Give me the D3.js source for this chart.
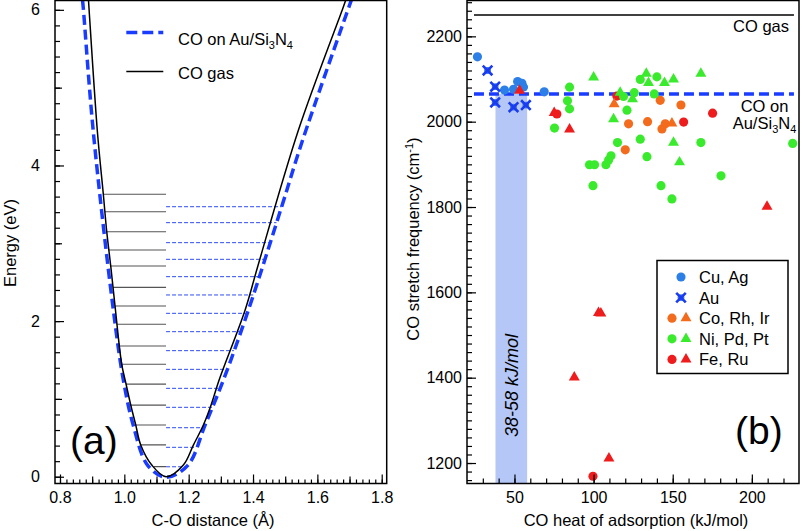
<!DOCTYPE html>
<html>
<head>
<meta charset="utf-8">
<script src="https://cdn.jsdelivr.net/npm/d3@7/dist/d3.min.js"></script>
<style>
    body { margin: 0; background: #fff; }
    svg text { font-family: "Liberation Sans", Arial, sans-serif; fill: #000; }
</style>
</head>
<body>
<div id="chart"></div>
<script>
// ---------- panel (a): potential curves, [C-O distance (A), energy (eV)] ----------
var gasCurve = [
    [0.8886, 6.127], [0.8902, 6.021], [0.9166, 4.418], [0.9347, 3.630], [0.9453, 3.149],
    [0.9577, 2.708], [0.9711, 2.194], [0.9919, 1.445], [1.0053, 1.192], [1.0199, 0.922],
    [1.0355, 0.665], [1.0510, 0.407], [1.0852, 0.150], [1.1297, 0.000], [1.1835, 0.150],
    [1.2146, 0.407], [1.2457, 0.665], [1.2697, 0.922], [1.2946, 1.243], [1.3755, 2.143],
    [1.4144, 2.699], [1.5412, 4.456], [1.6793, 6.021], [1.6883, 6.127]
];
var auCurve = [
    [0.8700, 6.127], [0.8725, 6.021], [0.9036, 4.431], [0.9658, 2.143], [0.9969, 1.243],
    [1.0275, 0.665], [1.0720, 0.150], [1.1297, -0.008], [1.1980, 0.150], [1.2510, 0.665],
    [1.3079, 1.243], [1.3857, 2.143], [1.4890, 3.470], [1.5512, 4.289], [1.6967, 6.021],
    [1.7058, 6.127]
];
// vibrational levels (eV)
var gasLevels = [0.13, 0.41, 0.665, 0.92, 1.19, 1.445, 1.68, 1.96, 2.194, 2.434, 2.708, 2.914, 3.149, 3.406, 3.63];
var auLevels = [0.128, 0.378, 0.63, 0.892, 1.136, 1.38, 1.62, 1.864, 2.10, 2.336, 2.571, 2.794, 3.008, 3.265, 3.47];
var rEq = 1.1297;

var xTicksA = [0.8, 1.0, 1.2, 1.4, 1.6, 1.8];
var yTicksA = [0, 2, 4, 6];

// ---------- panel (b): [heat of adsorption (kJ/mol), CO stretch (cm-1)] ----------
var cuAg = [[26.6, 2152], [43.7, 2074], [49.4, 2076], [52.0, 2094], [54.7, 2090], [55.7, 2081], [68.8, 2070]];
var auPts = [[33.0, 2120], [37.8, 2082], [37.8, 2045], [49.4, 2034], [57.2, 2039]];
var coRhIrCircles = [[122.1, 1995], [120.0, 1934], [134.1, 2000], [142.1, 2050], [143.2, 1983], [145.3, 1995], [155.2, 2039]];
var coRhIrTriangles = [[113.0, 2041], [149.5, 1996]];
var niPdPtCircles = [
    [84.8, 2081], [83.5, 2049], [84.8, 2030], [75.3, 1985], [97.4, 1899], [100.6, 1899],
    [99.6, 1850], [107.8, 1899], [109.5, 1910], [111.0, 1920], [115.1, 1951], [118.9, 2059],
    [121.1, 2027], [125.7, 2068], [129.5, 2099], [129.5, 1959], [133.7, 1918], [140.0, 2105],
    [138.3, 2065], [142.6, 1850], [149.5, 1819], [167.8, 1951], [180.5, 1873], [225.8, 1949]
];
var niPdPtTriangles = [
    [100.0, 2104], [116.8, 2068], [112.6, 2006], [124.6, 2053], [133.3, 2113], [134.7, 2091],
    [144.8, 2091], [150.5, 2099], [150.5, 1951], [154.3, 1905], [167.8, 2113]
];
var feRuCircles = [[76.8, 2018], [114.7, 2060], [156.9, 1999], [175.2, 2020], [99.6, 1169]];
var feRuTriangles = [[53.2, 2073], [75.1, 2021], [84.8, 1982], [209.6, 1801], [103.1, 1552], [104.6, 1551], [87.8, 1401], [109.7, 1211]];

var coGasFreq = 2250;
var coOnAuFreq = 2065;
var auHeatRange = [38, 58];
var refLineSpan = [24.4, 226.6];

var xTicksB = [50, 100, 150, 200];
var yTicksB = [1200, 1400, 1600, 1800, 2000, 2200];

var colors = { cuAg: "#2b7fe6", au: "#1a3cf0", co: "#f36b1c", ni: "#3aea2c", fe: "#ee1c1c" };

var svg = d3.select("#chart").append("svg")
    .attr("width", 802)
    .attr("height", 531);

// inward ticks, no domain line (frame drawn separately)
function tickAxis(g, axis) {
    g.call(axis);
    g.select(".domain").remove();
    g.selectAll(".tick line").attr("stroke", "#000").attr("stroke-width", 1.2);
    g.selectAll("text").style("font-size", "16px").attr("fill", "#000");
}

// linear lookup of distance at a given energy along one branch of a curve
function branchAt(points, e) {
    var pts = points.slice().sort(function(a, b){ return a[1] - b[1]; });
    for (var i = 0; i < pts.length - 1; i++) {
        if (e >= pts[i][1] && e <= pts[i + 1][1]) {
            var t = (e - pts[i][1]) / (pts[i + 1][1] - pts[i][1]);
            return pts[i][0] + t * (pts[i + 1][0] - pts[i][0]);
        }
    }
    return pts[pts.length - 1][0];
}

// ================= panel (a) =================
(function(){
    var w = 331.7, h = 483;
    var g = svg.append("g").attr("transform", "translate(55,0.5)");

    var x = d3.scaleLinear().domain([0.7845, 1.8155]).range([0, w]);
    var y = d3.scaleLinear().domain([-0.087, 6.12]).range([h, 0]);

    g.append("clipPath").attr("id", "clipA")
        .append("rect").attr("width", w).attr("height", h);

    var plot = g.append("g").attr("clip-path", "url(#clipA)");

    var gasLeft = gasCurve.filter(function(d){ return d[0] <= rEq; });
    var auRight = auCurve.filter(function(d){ return d[0] >= rEq; });

    plot.selectAll(".gas-level")
        .data(gasLevels).enter()
        .append("line")
        .attr("class", "gas-level")
        .attr("x1", function(d){ return x(branchAt(gasLeft, d)); })
        .attr("x2", x(rEq))
        .attr("y1", function(d){ return y(d); })
        .attr("y2", function(d){ return y(d); })
        .attr("stroke", "#555")
        .attr("stroke-width", 1.1);

    plot.selectAll(".au-level")
        .data(auLevels).enter()
        .append("line")
        .attr("class", "au-level")
        .attr("x1", x(rEq))
        .attr("x2", function(d){ return x(branchAt(auRight, d)); })
        .attr("y1", function(d){ return y(d); })
        .attr("y2", function(d){ return y(d); })
        .attr("stroke", "#2e4cf2")
        .attr("stroke-width", 1)
        .attr("stroke-dasharray", "4,2");

    var line = d3.line()
        .x(function(d){ return x(d[0]); })
        .y(function(d){ return y(d[1]); })
        .curve(d3.curveCatmullRom.alpha(0.5));

    plot.append("path")
        .datum(auCurve)
        .attr("d", line)
        .attr("fill", "none")
        .attr("stroke", "#1a3cff")
        .attr("stroke-width", 3.5)
        .attr("stroke-dasharray", "10,5");

    plot.append("path")
        .datum(gasCurve)
        .attr("d", line)
        .attr("fill", "none")
        .attr("stroke", "#000")
        .attr("stroke-width", 1.5);

    // ticks
    tickAxis(g.append("g").attr("transform", "translate(0," + h + ")"),
        d3.axisBottom(x).tickValues(d3.range(0.8, 1.8001, 0.02)).tickSize(-4).tickFormat(""));
    tickAxis(g.append("g").attr("transform", "translate(0," + h + ")"),
        d3.axisBottom(x).tickValues(d3.range(0.9, 1.8, 0.2)).tickSize(-7).tickFormat(""));
    tickAxis(g.append("g").attr("transform", "translate(0," + h + ")"),
        d3.axisBottom(x).tickValues(xTicksA).tickSize(-9).tickPadding(8).tickFormat(d3.format(".1f")));

    tickAxis(g.append("g"),
        d3.axisLeft(y).tickValues(d3.range(0, 6.001, 0.2)).tickSize(-5).tickFormat(""));
    tickAxis(g.append("g"),
        d3.axisLeft(y).tickValues([1, 3, 5]).tickSize(-7).tickFormat(""));
    tickAxis(g.append("g"),
        d3.axisLeft(y).tickValues(yTicksA).tickSize(-9).tickPadding(15).tickFormat(d3.format("d")));

    g.append("rect")
        .attr("width", w).attr("height", h)
        .attr("fill", "none").attr("stroke", "#000").attr("stroke-width", 1.5);

    // legend
    g.append("line")
        .attr("x1", 71.3).attr("x2", 108.3).attr("y1", 32).attr("y2", 32)
        .attr("stroke", "#1a3cff").attr("stroke-width", 3.5).attr("stroke-dasharray", "11,5");
    var t1 = g.append("text").attr("x", 123).attr("y", 44).style("font-size", "16.5px");
    t1.append("tspan").text("CO on Au/Si");
    t1.append("tspan").attr("dy", 4).style("font-size", "11px").text("3");
    t1.append("tspan").attr("dy", -4).text("N");
    t1.append("tspan").attr("dy", 4).style("font-size", "11px").text("4");

    g.append("line")
        .attr("x1", 71.3).attr("x2", 108.3).attr("y1", 71).attr("y2", 71)
        .attr("stroke", "#000").attr("stroke-width", 1.5);
    g.append("text").attr("x", 123).attr("y", 78).style("font-size", "16.5px").text("CO gas");

    g.append("text").attr("x", 15).attr("y", 453)
        .style("font-size", "39px").text("(a)");

    // axis titles
    svg.append("text")
        .attr("transform", "translate(15.5,243) rotate(-90)")
        .attr("text-anchor", "middle")
        .style("font-size", "16.5px")
        .text("Energy (eV)");
    svg.append("text")
        .attr("x", 213).attr("y", 526)
        .attr("text-anchor", "middle")
        .style("font-size", "16.5px")
        .text("C-O distance (\u00c5)");
})();

// ================= panel (b) =================
(function(){
    var w = 332, h = 483;
    var g = svg.append("g").attr("transform", "translate(467,0.5)");

    var x = d3.scaleLinear().domain([20, 229.8]).range([0, w]);
    var y = d3.scaleLinear().domain([1152, 2284]).range([h, 0]);

    g.append("clipPath").attr("id", "clipB")
        .append("rect").attr("width", w).attr("height", h);
    var plot = g.append("g").attr("clip-path", "url(#clipB)");

    // heat-of-adsorption band for CO on Au/Si3N4
    plot.append("rect")
        .attr("x", x(auHeatRange[0]))
        .attr("width", x(auHeatRange[1]) - x(auHeatRange[0]))
        .attr("y", y(coOnAuFreq))
        .attr("height", h - y(coOnAuFreq))
        .attr("fill", "#b5c7f6");

    plot.append("line")
        .attr("x1", x(refLineSpan[0])).attr("x2", x(refLineSpan[1]))
        .attr("y1", y(coGasFreq)).attr("y2", y(coGasFreq))
        .attr("stroke", "#000").attr("stroke-width", 1.5);

    plot.append("line")
        .attr("x1", x(refLineSpan[0])).attr("x2", x(refLineSpan[1]))
        .attr("y1", y(coOnAuFreq)).attr("y2", y(coOnAuFreq))
        .attr("stroke", "#1a3cff").attr("stroke-width", 3.5).attr("stroke-dasharray", "10,5");

    var circle = d3.symbol().type(d3.symbolCircle).size(66);
    var triangle = d3.symbol().type(d3.symbolTriangle).size(52);

    function addMarks(data, sym, color) {
        plot.append("g").selectAll("path")
            .data(data).enter()
            .append("path")
            .attr("d", sym)
            .attr("transform", function(d){ return "translate(" + x(d[0]) + "," + y(d[1]) + ")"; })
            .attr("fill", color);
    }

    function addCross(sel, color) {
        sel.append("circle").attr("r", 3.4).attr("fill", "#3b7ae8");
        sel.append("path")
            .attr("d", "M-4.8,-4.8L4.8,4.8M-4.8,4.8L4.8,-4.8")
            .attr("stroke", color).attr("stroke-width", 2.6).attr("fill", "none");
    }

    addMarks(cuAg, circle, colors.cuAg);
    addCross(plot.append("g").selectAll("g")
        .data(auPts).enter()
        .append("g")
        .attr("transform", function(d){ return "translate(" + x(d[0]) + "," + y(d[1]) + ")"; }), colors.au);
    addMarks(feRuCircles, circle, colors.fe);
    addMarks(feRuTriangles, triangle, colors.fe);
    addMarks(coRhIrCircles, circle, colors.co);
    addMarks(coRhIrTriangles, triangle, colors.co);
    addMarks(niPdPtCircles, circle, colors.ni);
    addMarks(niPdPtTriangles, triangle, colors.ni);

    // ticks
    tickAxis(g.append("g").attr("transform", "translate(0," + h + ")"),
        d3.axisBottom(x).tickValues(d3.range(30, 230, 10)).tickSize(-5).tickFormat(""));
    tickAxis(g.append("g").attr("transform", "translate(0," + h + ")"),
        d3.axisBottom(x).tickValues(xTicksB).tickSize(-9).tickPadding(8));
    tickAxis(g.append("g"),
        d3.axisLeft(y).tickValues(d3.range(1160, 2281, 20)).tickSize(-5).tickFormat(""));
    tickAxis(g.append("g"),
        d3.axisLeft(y).tickValues(yTicksB).tickSize(-9).tickPadding(5).tickFormat(d3.format("d")));

    g.append("rect")
        .attr("width", w).attr("height", h)
        .attr("fill", "none").attr("stroke", "#000").attr("stroke-width", 1.5);

    // reference line labels
    g.append("text").attr("x", 322).attr("y", 31)
        .attr("text-anchor", "end").style("font-size", "16.5px").text("CO gas");
    g.append("text").attr("x", 297.5).attr("y", 111)
        .attr("text-anchor", "middle").style("font-size", "16.5px").text("CO on");
    var t2 = g.append("text").attr("x", 297.5).attr("y", 128)
        .attr("text-anchor", "middle").style("font-size", "16.5px");
    t2.append("tspan").text("Au/Si");
    t2.append("tspan").attr("dy", 4).style("font-size", "11px").text("3");
    t2.append("tspan").attr("dy", -4).text("N");
    t2.append("tspan").attr("dy", 4).style("font-size", "11px").text("4");

    g.append("text")
        .attr("transform", "translate(51,385) rotate(-90)")
        .attr("text-anchor", "middle")
        .style("font-size", "18px").style("font-style", "italic")
        .text("38-58 kJ/mol");

    g.append("text").attr("x", 268).attr("y", 443)
        .style("font-size", "39px").text("(b)");

    // legend
    var lg = g.append("g").attr("transform", "translate(190,260)");
    lg.append("rect").attr("width", 131).attr("height", 113)
        .attr("fill", "#fff").attr("stroke", "#000").attr("stroke-width", 1.5);

    var legendRows = [
        { label: "Cu, Ag", color: colors.cuAg, kind: "circle" },
        { label: "Au", color: colors.au, kind: "cross" },
        { label: "Co, Rh, Ir", color: colors.co, kind: "both" },
        { label: "Ni, Pd, Pt", color: colors.ni, kind: "both" },
        { label: "Fe, Ru", color: colors.fe, kind: "both" }
    ];

    var row = lg.selectAll(".legend")
        .data(legendRows).enter()
        .append("g")
        .attr("class", "legend")
        .attr("transform", function(d, i){ return "translate(0," + (16.5 + 20.6 * i) + ")"; });

    row.append("text")
        .attr("x", 42)
        .attr("dy", "0.36em")
        .style("font-size", "16.5px")
        .text(function(d){ return d.label; });

    row.filter(function(d){ return d.kind === "circle"; })
        .append("path").attr("d", circle)
        .attr("transform", "translate(24,0)")
        .attr("fill", function(d){ return d.color; });

    addCross(row.filter(function(d){ return d.kind === "cross"; })
        .append("g").attr("transform", "translate(24,0)"), colors.au);

    var both = row.filter(function(d){ return d.kind === "both"; });
    both.append("path").attr("d", circle)
        .attr("transform", "translate(15,0)")
        .attr("fill", function(d){ return d.color; });
    both.append("path").attr("d", triangle)
        .attr("transform", "translate(29,0)")
        .attr("fill", function(d){ return d.color; });

    // axis titles
    var yt = svg.append("text")
        .attr("transform", "translate(419,239) rotate(-90)")
        .attr("text-anchor", "middle")
        .style("font-size", "16.5px");
    yt.append("tspan").text("CO stretch frequency (cm");
    yt.append("tspan").attr("dy", -6).style("font-size", "11px").text("-1");
    yt.append("tspan").attr("dy", 6).text(")");

    svg.append("text")
        .attr("x", 636).attr("y", 526)
        .attr("text-anchor", "middle")
        .style("font-size", "16.5px")
        .text("CO heat of adsorption (kJ/mol)");
})();
</script>
</body>
</html>
